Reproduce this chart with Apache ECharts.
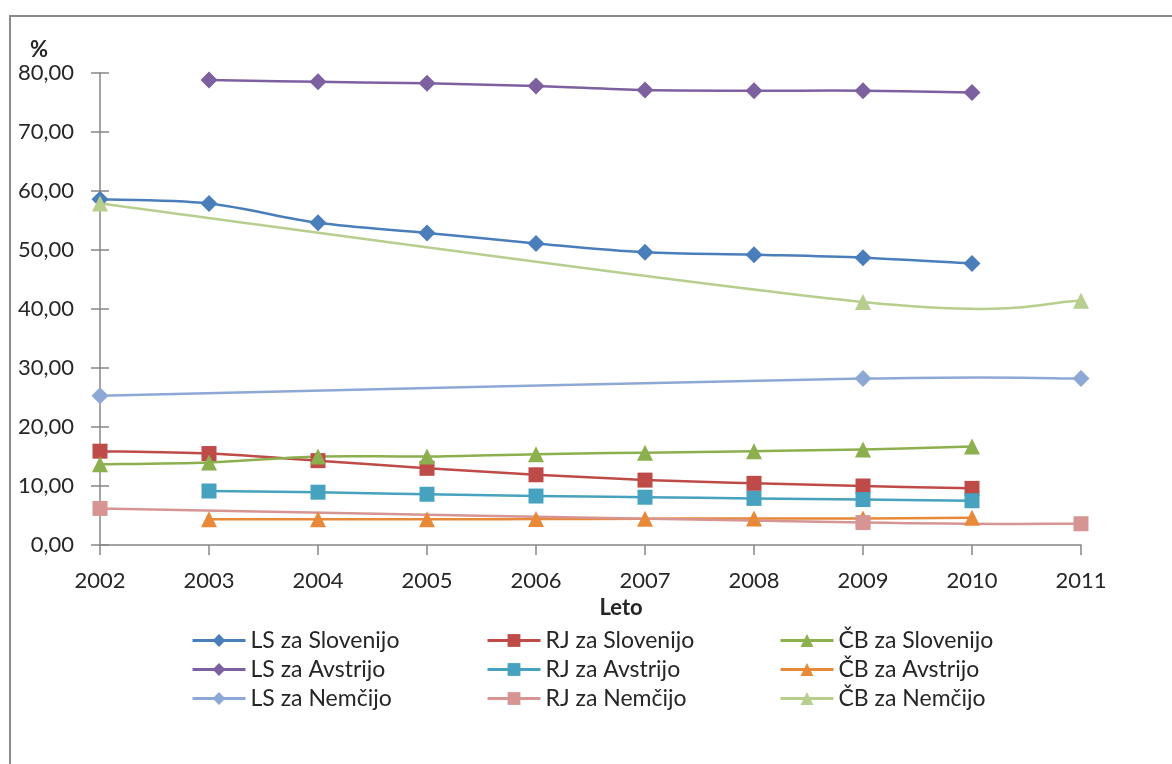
<!DOCTYPE html>
<html>
<head>
<meta charset="utf-8">
<script src="https://cdn.jsdelivr.net/npm/echarts@6/dist/echarts.min.js"></script>
<style>
  html, body { margin: 0; padding: 0; background: #ffffff; }
  #chart { width: 1172px; height: 764px; }
</style>
</head>
<body>
<div id="chart"></div>
<script>
// Years on the category axis
const years = ['2002', '2003', '2004', '2005', '2006', '2007', '2008', '2009', '2010', '2011'];

// Shares in % per indicator and country (null = no value for that year)
const lsSlovenija = [58.6, 57.9, 54.6, 52.9, 51.1, 49.6, 49.2, 48.7, 47.7, null];
const rjSlovenija = [15.9, 15.5, 14.3, 13.0, 11.9, 11.0, 10.45, 10.0, 9.6, null];
const cbSlovenija = [13.7, 14.0, 15.0, 15.0, 15.4, 15.65, 15.9, 16.2, 16.7, null];
const lsAvstrija  = [null, 78.8, 78.5, 78.25, 77.8, 77.1, 77.0, 77.0, 76.7, null];
const rjAvstrija  = [null, 9.15, 8.95, 8.6, 8.3, 8.1, 7.9, 7.7, 7.5, null];
const cbAvstrija  = [null, 4.35, 4.35, 4.35, 4.4, 4.45, 4.5, 4.5, 4.6, null];
const lsNemcija   = [25.3, null, null, null, null, null, null, 28.2, null, 28.2];
const rjNemcija   = [6.2, null, null, null, null, null, null, 3.8, null, 3.6];
const cbNemcija   = [57.9, null, null, null, null, null, null, 41.2, null, 41.4];

// Y axis tick values
const yTicks = { min: 0, max: 80, interval: 10 };

const FONT = 'Lato, "Open Sans", sans-serif';
const TEXT = '#262626';
const AXIS = '#868686';
const LINE_W = 2.5;
const SYMBOL_SIZE = { diamond: 17, rect: 15, triangle: 16 };

// Markers (and legend entries) for one series; the connecting line is drawn by curveFor()
function markers(name, data, color, symbol) {
  return {
    name: name,
    type: 'line',
    data: data,
    connectNulls: true,
    symbol: symbol,
    symbolSize: SYMBOL_SIZE[symbol],
    showAllSymbol: true,
    lineStyle: { color: color, width: LINE_W, opacity: 0 },
    itemStyle: { color: color },
    emphasis: { disabled: true },
    silent: true,
    animation: false
  };
}

// Smoothed connecting line: cubic Bezier segments with Catmull-Rom style
// control points (neighbour difference / 6), computed in pixel space.
function curveFor(data, color) {
  const pts = [];
  data.forEach(function (v, i) { if (v != null) pts.push([i, v]); });
  return {
    type: 'custom',
    coordinateSystem: 'cartesian2d',
    data: pts,
    silent: true,
    animation: false,
    clip: false,
    renderItem: function (params, api) {
      if (params.dataIndex !== 0) return null;
      const p = pts.map(function (d) { return api.coord(d); });
      const children = [];
      for (let i = 0; i < p.length - 1; i++) {
        const p0 = p[i - 1] || p[i];
        const p1 = p[i];
        const p2 = p[i + 1];
        const p3 = p[i + 2] || p[i + 1];
        children.push({
          type: 'bezierCurve',
          shape: {
            x1: p1[0], y1: p1[1],
            cpx1: p1[0] + (p2[0] - p0[0]) / 6, cpy1: p1[1] + (p2[1] - p0[1]) / 6,
            cpx2: p2[0] - (p3[0] - p1[0]) / 6, cpy2: p2[1] - (p3[1] - p1[1]) / 6,
            x2: p2[0], y2: p2[1]
          },
          style: { stroke: color, lineWidth: LINE_W, fill: 'none', lineCap: 'round' }
        });
      }
      return { type: 'group', children: children };
    }
  };
}

const defs = [
  ['LS za Slovenijo', lsSlovenija, '#4A7EBB', 'diamond'],
  ['RJ za Slovenijo', rjSlovenija, '#BE4B48', 'rect'],
  ['ČB za Slovenijo', cbSlovenija, '#8CB04D', 'triangle'],
  ['LS za Avstrijo', lsAvstrija, '#7D60A0', 'diamond'],
  ['RJ za Avstrijo', rjAvstrija, '#46A2BE', 'rect'],
  ['ČB za Avstrijo', cbAvstrija, '#E8893A', 'triangle'],
  ['LS za Nemčijo', lsNemcija, '#8EA8D6', 'diamond'],
  ['RJ za Nemčijo', rjNemcija, '#D69592', 'rect'],
  ['ČB za Nemčijo', cbNemcija, '#B7CE8E', 'triangle']
];

const series = [];
defs.forEach(function (d) {
  series.push(markers(d[0], d[1], d[2], d[3]));
  series.push(curveFor(d[1], d[2]));
});

function legendColumn(left, names) {
  return {
    data: names,
    orient: 'vertical',
    left: left,
    top: 629,
    padding: 0,
    itemWidth: 53,
    itemHeight: 16,
    itemGap: 6,
    selectedMode: false,
    lineStyle: { width: 3, opacity: 1 },
    textStyle: { fontFamily: FONT, fontSize: 23, color: TEXT }
  };
}

const chart = echarts.init(document.getElementById('chart'), null, { renderer: 'canvas' });

chart.setOption({
  backgroundColor: '#ffffff',
  animation: false,
  grid: { left: 100, right: 91, top: 73, bottom: 219, containLabel: false },
  graphic: [{
    type: 'rect',
    shape: { x: 10, y: 16, width: 1400, height: 1000 },
    style: { fill: 'none', stroke: '#8a8a8a', lineWidth: 2 },
    silent: true
  }],
  legend: [
    legendColumn(191, ['LS za Slovenijo', 'LS za Avstrijo', 'LS za Nemčijo']),
    legendColumn(486, ['RJ za Slovenijo', 'RJ za Avstrijo', 'RJ za Nemčijo']),
    legendColumn(779, ['ČB za Slovenijo', 'ČB za Avstrijo', 'ČB za Nemčijo'])
  ],
  xAxis: {
    type: 'category',
    data: years,
    boundaryGap: false,
    name: 'Leto',
    nameLocation: 'middle',
    nameGap: 52,
    nameTextStyle: { fontFamily: FONT, fontSize: 22, fontWeight: 'bold', color: TEXT, padding: [0, 0, 0, 61] },
    axisLine: { lineStyle: { color: AXIS, width: 1.5 } },
    axisTick: { show: true, length: 10, lineStyle: { color: AXIS, width: 1.5 } },
    axisLabel: { fontFamily: FONT, fontSize: 22, color: TEXT, margin: 25, interval: 0 },
    splitLine: { show: false }
  },
  yAxis: [
    {
      type: 'value',
      min: yTicks.min,
      max: yTicks.max,
      interval: yTicks.interval,
      name: '%',
      nameLocation: 'end',
      nameGap: 12,
      nameTextStyle: { fontFamily: FONT, fontSize: 22, fontWeight: 'bold', color: TEXT, align: 'center', padding: [0, 122, 0, 0] },
      axisLine: { show: true, lineStyle: { color: AXIS, width: 1.5 } },
      axisTick: { show: true, length: 9, lineStyle: { color: AXIS, width: 1.5 } },
      axisLabel: {
        fontFamily: FONT, fontSize: 22, color: TEXT, margin: 26,
        formatter: function (v) { return v.toFixed(2).replace('.', ','); }
      },
      splitLine: { show: false }
    },
    {
      // inner half of the crossing tick marks
      type: 'value',
      position: 'left',
      min: yTicks.min,
      max: yTicks.max,
      interval: yTicks.interval,
      axisLine: { show: false },
      axisTick: { show: true, inside: true, length: 9, lineStyle: { color: AXIS, width: 1.5 } },
      axisLabel: { show: false },
      splitLine: { show: false }
    }
  ],
  series: series
});
</script>
</body>
</html>
